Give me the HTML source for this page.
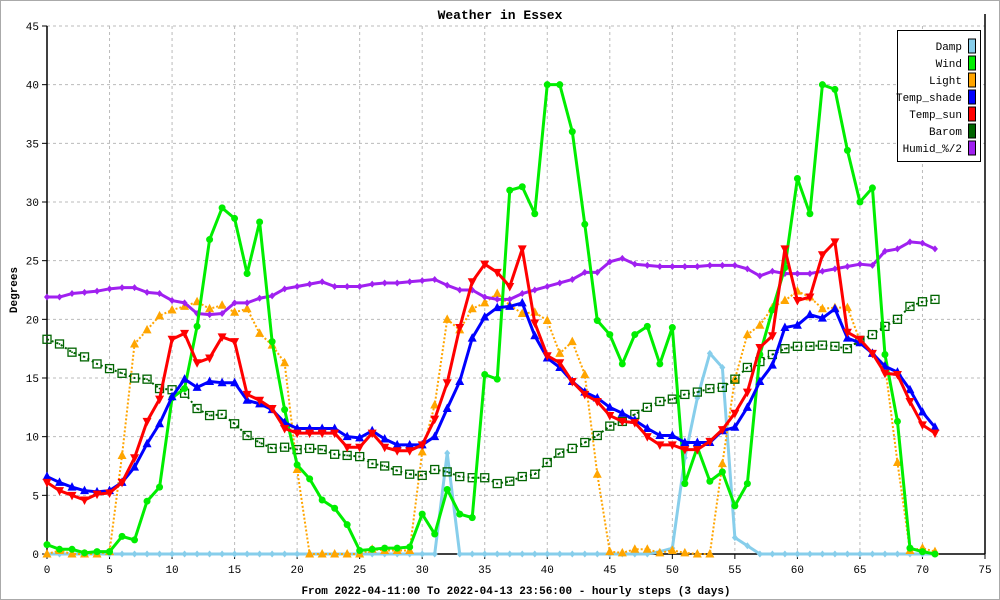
<!DOCTYPE html>
<html><head><meta charset="utf-8"><style>
body{margin:0;background:#fff}
svg{display:block;font-family:"Liberation Mono","DejaVu Sans Mono",monospace}
</style></head><body>
<svg id="c" width="1000" height="600" viewBox="0 0 1000 600">
<rect x="0.5" y="0.5" width="999" height="599" fill="#fff" stroke="#aaa"/>
<text x="500" y="19" text-anchor="middle" font-size="13" font-weight="bold">Weather in Essex</text>
<g id="grid"></g>
<g id="axes"></g>
<g id="series"></g>
<text x="17" y="290" text-anchor="middle" font-size="11" font-weight="bold" transform="rotate(-90 17 290)">Degrees</text>
<text x="516" y="594" text-anchor="middle" font-size="11" font-weight="bold">From 2022-04-11:00 To 2022-04-13 23:56:00 - hourly steps (3 days)</text>
<g id="legend"></g>
</svg>
<script>
const xTicks=[0,5,10,15,20,25,30,35,40,45,50,55,60,65,70,75];
const yTicks=[0,5,10,15,20,25,30,35,40,45];
const seriesNames=["Damp","Wind","Light","Temp_shade","Temp_sun","Barom","Humid_%/2"];
const damp=[0,0,0,0,0,0,0,0,0,0,0,0,0,0,0,0,0,0,0,0,0,0,0,0,0,0,0,0,0,0,0,0,8.6,0,0,0,0,0,0,0,0,0,0,0,0,0,0,0,0,0.2,0.5,8.2,13.3,17.1,15.9,1.4,0.7,0,0,0,0,0,0,0,0,0,0,0,0,0,0,0];
const wind=[0.8,0.4,0.4,0.1,0.2,0.2,1.5,1.2,4.5,5.7,13.3,14.1,19.4,26.8,29.5,28.6,23.9,28.3,18.1,12.3,7.6,6.4,4.6,3.9,2.5,0.3,0.4,0.5,0.5,0.6,3.4,1.7,5.5,3.4,3.1,15.3,14.9,31,31.3,29,40,40,36,28.1,19.9,18.7,16.2,18.7,19.4,16.2,19.3,6,9.1,6.2,7,4.1,6,17,20.8,24.4,32,29,40,39.6,34.4,30,31.2,17,11.3,0.5,0.2,0];
const light=[0,0.3,0,0,0,0.2,8.4,17.9,19.1,20.3,20.8,21.1,21.5,20.9,21.2,20.6,20.9,18.8,17.8,16.3,7.2,0,0,0,0,0,0.4,0.3,0.3,0.3,8.7,12.7,20,19.1,20.9,21.4,22.2,21.2,20.5,20.6,19.9,17.1,18.1,15.3,6.8,0.2,0.1,0.4,0.4,0.1,0.3,0.1,0,0,7.7,14.9,18.7,19.5,21,21.6,22.4,21.9,20.9,21,21,18.2,17.1,16.1,7.8,0.3,0.5,0.2];
const tempShade=[6.6,6.1,5.7,5.4,5.3,5.4,6.1,7.4,9.4,11.1,13.4,14.9,14.2,14.7,14.6,14.6,13.1,12.8,12.3,11.2,10.7,10.7,10.7,10.7,10,9.9,10.5,9.8,9.3,9.3,9.3,10,12.4,14.7,18.4,20.2,21,21.1,21.4,18.6,16.7,15.9,14.7,13.8,13.3,12.5,12,11.4,10.7,10.1,10.1,9.5,9.5,9.5,10.5,10.8,12.5,14.7,16.1,19.3,19.5,20.4,20.1,20.9,18.4,18,17.1,16,15.5,14,12.1,10.8];
const tempSun=[6.1,5.4,5,4.6,5.1,5.2,6.1,8.2,11.3,13.2,18.3,18.8,16.3,16.7,18.5,18.1,13.6,13.1,12.4,10.7,10.3,10.3,10.3,10.3,9.1,9.1,10.3,9.1,8.8,8.8,9.3,11.5,14.6,19.3,23.2,24.7,24,22.8,26,19.7,16.9,16.3,14.7,13.6,13,11.8,11.3,11.2,10,9.3,9.3,8.9,8.9,9.6,10.6,12,13.8,17.6,18.6,26,21.6,21.9,25.5,26.6,18.9,18.3,17.1,15.4,15.3,13,11,10.3];
const barom=[18.3,17.9,17.2,16.8,16.2,15.8,15.4,15,14.9,14.1,14,13.7,12.4,11.8,11.9,11.1,10.1,9.5,9,9.1,8.9,9,8.9,8.5,8.4,8.3,7.7,7.5,7.1,6.8,6.7,7.2,7,6.6,6.5,6.5,6,6.2,6.6,6.8,7.8,8.6,9,9.5,10.1,10.9,11.3,11.9,12.5,13,13.2,13.6,13.8,14.1,14.2,14.9,15.9,16.4,17,17.5,17.7,17.7,17.8,17.7,17.5,18.2,18.7,19.4,20,21.1,21.5,21.7];
const humid=[21.9,21.9,22.2,22.3,22.4,22.6,22.7,22.7,22.3,22.2,21.6,21.4,20.5,20.4,20.5,21.4,21.4,21.8,22,22.6,22.8,23,23.2,22.8,22.8,22.8,23,23.1,23.1,23.2,23.3,23.4,22.9,22.5,22.5,21.9,21.7,21.7,22.2,22.5,22.8,23.1,23.4,24,24,24.9,25.2,24.7,24.6,24.5,24.5,24.5,24.5,24.6,24.6,24.6,24.3,23.7,24.1,23.9,23.9,23.9,24.1,24.3,24.5,24.7,24.6,25.8,26,26.6,26.5,26];

const NS="http://www.w3.org/2000/svg";
const X0=47,X1=985,Y0=554,Y1=26,XMAX=75,YMAX=45;
function xs(v){return X0+(X1-X0)*v/XMAX}
function ys(v){return Y0-(Y0-Y1)*v/YMAX}
function mk(tag,attrs,parent){const e=document.createElementNS(NS,tag);for(const k in attrs)e.setAttribute(k,attrs[k]);parent.appendChild(e);return e}
const grid=document.getElementById('grid'),axes=document.getElementById('axes'),ser=document.getElementById('series'),leg=document.getElementById('legend');
xTicks.forEach(t=>{
  if(t>0&&t<XMAX){const l=mk('line',{x1:xs(t),x2:xs(t),y1:Y1,y2:Y0,stroke:'#bbb','stroke-dasharray':'3,3'},grid);
  
  }
  const tk=mk('line',{x1:xs(t),x2:xs(t),y1:Y0,y2:Y0+5,stroke:'#000'},axes);
  
  
  const tx=mk('text',{x:xs(t),y:Y0+19,'text-anchor':'middle','font-size':11},axes);tx.textContent=t;
  
  
});
yTicks.forEach(t=>{
  if(t>0){const l=mk('line',{x1:X0,x2:X1,y1:ys(t),y2:ys(t),stroke:'#bbb','stroke-dasharray':'3,3'},grid);
  
  }
  const tk=mk('line',{x1:X0-5,x2:X0,y1:ys(t),y2:ys(t),stroke:'#000'},axes);
  
  
  const tx=mk('text',{x:X0-8,y:ys(t)+4,'text-anchor':'end','font-size':11},axes);tx.textContent=t;
  
  
});
const ax1=mk('line',{x1:X0,x2:X0,y1:Y1,y2:Y0,stroke:'#000','stroke-width':1.5},axes);


const ax2=mk('line',{x1:X0,x2:X1,y1:Y0,y2:Y0,stroke:'#000','stroke-width':1.5},axes);


const ax3=mk('line',{x1:X1,x2:X1,y1:Y1-12,y2:Y0,stroke:'#000','stroke-width':1.5},axes);



function marker(g,type,x,y,col){
  let e;
  if(type==='circle')e=mk('circle',{cx:x,cy:y,r:3.5,fill:col},g);
  else if(type==='up')e=mk('polygon',{points:`${x},${y-5} ${x-4.5},${y+3.5} ${x+4.5},${y+3.5}`,fill:col},g);
  else if(type==='down')e=mk('polygon',{points:`${x},${y+5} ${x-4.5},${y-3.5} ${x+4.5},${y-3.5}`,fill:col},g);
  else if(type==='diamond')e=mk('polygon',{points:`${x},${y-3.5} ${x+3},${y} ${x},${y+3.5} ${x-3},${y}`,fill:col},g);
  else if(type==='square'){e=mk('rect',{x:x-4,y:y-4,width:8,height:8,fill:'none',stroke:col,'stroke-width':1.3},g);const d=mk('rect',{x:x-0.8,y:y-0.8,width:1.6,height:1.6,fill:col},g);}
  
  
}
const defs=[
 {name:'damp',data:damp,col:'#87ceeb',w:3,dash:null,m:'diamond'},
 {name:'light',data:light,col:'#ffa500',w:2,dash:'2,2',m:'up'},
 {name:'barom',data:barom,col:'#006400',w:2,dash:'2,3',m:'square'},
 {name:'humid',data:humid,col:'#a020f0',w:3,dash:null,m:'diamond'},
 {name:'wind',data:wind,col:'#00ee00',w:3,dash:null,m:'circle'},
 {name:'temp-shade',data:tempShade,col:'#0000ff',w:3,dash:null,m:'up'},
 {name:'temp-sun',data:tempSun,col:'#ff0000',w:3,dash:null,m:'down'}
];
defs.forEach(s=>{
  const g=mk('g',{},ser);
  
  
  const pts=s.data.map((v,i)=>xs(i)+','+ys(v)).join(' ');
  const a={points:pts,fill:'none',stroke:s.col,'stroke-width':s.w,'stroke-linejoin':'round'};
  if(s.dash)a['stroke-dasharray']=s.dash;
  const pl=mk('polyline',a,g);
  
  
  s.data.forEach((v,i)=>marker(g,s.m,xs(i),ys(v),s.col));
});
const legCols=['#87ceeb','#00ee00','#ffa500','#0000ff','#ff0000','#006400','#a020f0'];
const lb=mk('rect',{x:897.5,y:30.5,width:83,height:131,fill:'#fff',stroke:'#000'},leg);


seriesNames.forEach((n,i)=>{
  const y=46+i*17;
  const t=mk('text',{x:962,y:y+4,'text-anchor':'end','font-size':11},leg);t.textContent=n;
  
  
  const r=mk('rect',{x:968.5,y:y-7,width:7,height:14,fill:legCols[i],stroke:'#000'},leg);
  
  
});
</script>
</body></html>
